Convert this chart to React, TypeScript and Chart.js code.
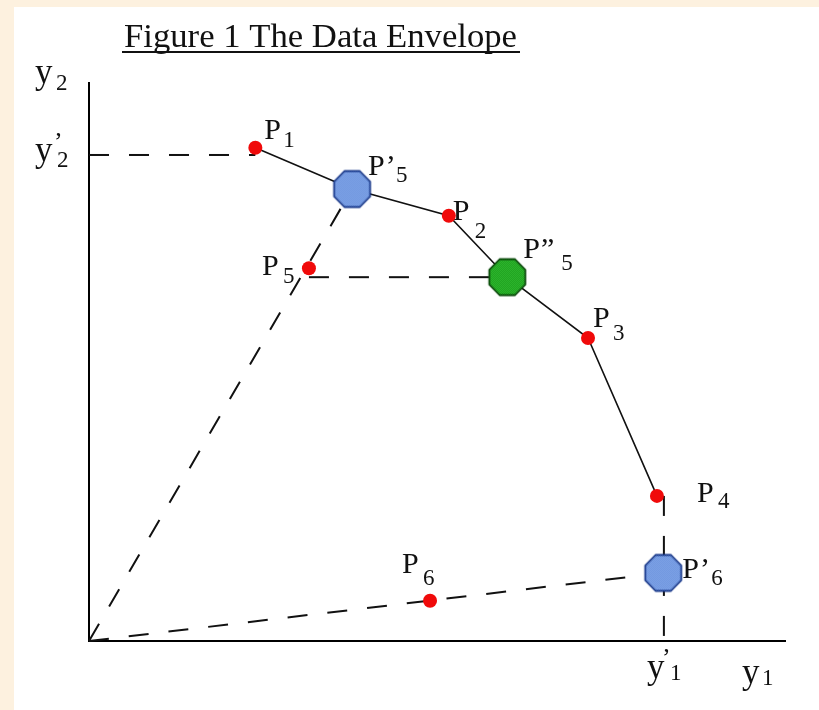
import React, { useEffect, useRef } from "react";
import { Chart, registerables } from "chart.js";

Chart.register(...registerables);

// ---- data (axis units: 0..10 on both axes) ----
const AXIS_MAX_X = 10;
const AXIS_MAX_Y = 10;

const observedNames = ["P1", "P2", "P3", "P4", "P5", "P6"];
const observedX = [2.39, 5.17, 7.17, 8.16, 3.16, 4.9];
const observedY = [8.84, 7.62, 5.43, 2.6, 6.68, 0.72];

const projectedNames = ["P'5", "P''5", "P'6"];
const projectedX = [3.78, 6.01, 8.25];
const projectedY = [8.1, 6.52, 1.22];

const frontierOrder = ["P1", "P'5", "P2", "P''5", "P3", "P4"];

const yPrime2 = 8.71; // y'2 on the y2 axis
const yPrime1 = 8.26; // y'1 on the y1 axis

const titleText = "Figure 1 The Data Envelope";

// ---- styles ----
const SERIF = '"Liberation Serif", "Times New Roman", serif';
const CANVAS_W = 805;
const CANVAS_H = 703;

type LabelStyle = { pdx: number; pdy: number; sdx: number; sdy: number };
const labelStyles: Record<string, LabelStyle> = {
  P1: { pdx: 9, pdy: -9, sdx: 28, sdy: -1 },
  "P'5": { pdx: 16, pdy: -14, sdx: 44, sdy: -7 },
  P2: { pdx: 4, pdy: 4, sdx: 26, sdy: 22 },
  "P''5": { pdx: 16, pdy: -19, sdx: 54, sdy: -7 },
  P3: { pdx: 5, pdy: -11, sdx: 25, sdy: 2 },
  P4: { pdx: 40, pdy: 6, sdx: 61, sdy: 12 },
  "P'6": { pdx: 19, pdy: 5, sdx: 48, sdy: 12 },
  P5: { pdx: -47, pdy: 7, sdx: -26, sdy: 15 },
  P6: { pdx: -28, pdy: -28, sdx: -7, sdy: -16 },
};

function getPoint(name: string): { x: number; y: number } {
  let i = observedNames.indexOf(name);
  if (i >= 0) return { x: observedX[i], y: observedY[i] };
  i = projectedNames.indexOf(name);
  return { x: projectedX[i], y: projectedY[i] };
}

function makeOctagon(fill: string, light: string, stroke: string, r: number): HTMLCanvasElement {
  const size = Math.ceil(r * 2 + 4);
  const c = document.createElement("canvas");
  c.width = size;
  c.height = size;
  const g = c.getContext("2d")!;
  const cx = size / 2;
  const cy = size / 2;
  g.beginPath();
  for (let i = 0; i < 8; i++) {
    const a = Math.PI / 8 + (i * Math.PI) / 4;
    const px = cx + r * Math.cos(a);
    const py = cy + r * Math.sin(a);
    if (i === 0) g.moveTo(px, py);
    else g.lineTo(px, py);
  }
  g.closePath();
  const pc = document.createElement("canvas");
  pc.width = 2;
  pc.height = 2;
  const pg = pc.getContext("2d")!;
  pg.fillStyle = fill;
  pg.fillRect(0, 0, 2, 2);
  pg.fillStyle = light;
  pg.fillRect(0, 0, 1, 1);
  pg.fillRect(1, 1, 1, 1);
  g.fillStyle = g.createPattern(pc, "repeat")!;
  g.fill();
  g.lineWidth = 1.8;
  g.strokeStyle = stroke;
  g.stroke();
  return c;
}

function drawPointLabel(ctx: CanvasRenderingContext2D, px: number, py: number, name: string) {
  const st = labelStyles[name];
  const m = name.match(/^([A-Za-z]+)('*)(\d+)$/);
  if (!st || !m) return;
  const base = m[1];
  const primes = m[2];
  const sub = m[3];
  ctx.fillStyle = "#111";
  ctx.textAlign = "left";
  ctx.textBaseline = "alphabetic";
  ctx.font = `30px ${SERIF}`;
  ctx.fillText(base, px + st.pdx, py + st.pdy);
  if (primes) {
    const w = ctx.measureText(base).width;
    ctx.fillText(primes.length === 2 ? "\u201D" : "\u2019", px + st.pdx + w + 1, py + st.pdy);
  }
  ctx.font = `23px ${SERIF}`;
  ctx.fillText(sub, px + st.sdx, py + st.sdy);
}

const annotationPlugin = {
  id: "envelopeAnnotations",
  beforeDatasetsDraw(chart: any) {
    const ctx: CanvasRenderingContext2D = chart.ctx;
    const xs = chart.scales.x;
    const ys = chart.scales.y;
    ctx.save();
    [...observedNames, ...projectedNames].forEach((n) => {
      const p = getPoint(n);
      drawPointLabel(ctx, xs.getPixelForValue(p.x), ys.getPixelForValue(p.y), n);
    });
    ctx.restore();
  },
  afterDraw(chart: any) {
    const ctx: CanvasRenderingContext2D = chart.ctx;
    const area = chart.chartArea;
    const xs = chart.scales.x;
    const ys = chart.scales.y;
    ctx.save();
    ctx.fillStyle = "#111";
    ctx.textAlign = "left";
    ctx.textBaseline = "alphabetic";

    // title with underline
    ctx.font = `33px ${SERIF}`;
    const tw = ctx.measureText(titleText).width;
    const targetW = 393;
    ctx.save();
    ctx.translate(110, 40);
    ctx.scale(targetW / tw, 1);
    ctx.fillText(titleText, 0, 0);
    ctx.restore();
    ctx.fillRect(108, 44, 398, 2);

    // y2 axis name
    ctx.font = `35px ${SERIF}`;
    ctx.fillText("y", area.left - 54, area.top);
    ctx.font = `23px ${SERIF}`;
    ctx.fillText("2", area.left - 33, area.top + 7);

    // y'2 tick label
    const p2 = ys.getPixelForValue(yPrime2);
    ctx.font = `35px ${SERIF}`;
    ctx.fillText("y", area.left - 54, p2 + 6);
    ctx.font = `26px ${SERIF}`;
    ctx.fillText("\u2019", area.left - 35, p2 - 5);
    ctx.font = `23px ${SERIF}`;
    ctx.fillText("2", area.left - 32, p2 + 12);

    // y'1 tick label
    const q1 = xs.getPixelForValue(yPrime1);
    ctx.font = `35px ${SERIF}`;
    ctx.fillText("y", q1 - 17, area.bottom + 37);
    ctx.font = `26px ${SERIF}`;
    ctx.fillText("\u2019", q1 - 2, area.bottom + 25);
    ctx.font = `23px ${SERIF}`;
    ctx.fillText("1", q1 + 6, area.bottom + 39);

    // y1 axis name
    ctx.font = `35px ${SERIF}`;
    ctx.fillText("y", area.right - 43, area.bottom + 42);
    ctx.font = `23px ${SERIF}`;
    ctx.fillText("1", area.right - 23, area.bottom + 44);

    ctx.restore();
  },
};

export default function App() {
  const canvasRef = useRef<HTMLCanvasElement | null>(null);

  useEffect(() => {
    const canvas = canvasRef.current;
    if (!canvas) return;

    const blueOct = makeOctagon("#3a6cd0", "#b4cdf5", "#1a3a8c", 19.5);
    const greenOct = makeOctagon("#128e12", "#3ccb3c", "#0a4a0a", 19.5);

    const observed = observedNames.map((n) => getPoint(n));
    const frontier = frontierOrder.map((n) => getPoint(n));
    const p1 = getPoint("P1");
    const p4 = getPoint("P4");
    const p5 = getPoint("P5");
    const p5a = getPoint("P'5");
    const p5b = getPoint("P''5");
    const p6a = getPoint("P'6");
    const origin = { x: 0, y: 0 };

    const dashed = (data: { x: number; y: number }[]) => ({
      data,
      showLine: true,
      borderColor: "#111",
      borderWidth: 2,
      borderDash: [20, 20],
      pointRadius: 0,
      clip: false as const,
      order: 3,
    });

    const chart = new Chart(canvas, {
      type: "scatter",
      data: {
        datasets: [
          {
            data: observed,
            pointRadius: 7,
            pointBackgroundColor: "#f00a0a",
            pointBorderWidth: 0,
            showLine: false,
            clip: false as const,
            order: 0,
          },
          {
            data: [p5a, p6a],
            pointStyle: blueOct,
            showLine: false,
            clip: false as const,
            order: 0,
          },
          {
            data: [p5b],
            pointStyle: greenOct,
            showLine: false,
            clip: false as const,
            order: 0,
          },
          {
            data: frontier,
            showLine: true,
            borderColor: "#111",
            borderWidth: 1.6,
            pointRadius: 0,
            clip: false as const,
            order: 2,
          },
          dashed([{ x: 0, y: yPrime2 }, { x: p1.x, y: yPrime2 }]),
          dashed([origin, p5a]),
          dashed([{ x: p5.x, y: p5b.y }, p5b]),
          dashed([origin, p6a]),
          dashed([{ x: yPrime1, y: p4.y }, { x: yPrime1, y: 0 }]),
        ] as any,
      },
      options: {
        responsive: false,
        animation: false,
        devicePixelRatio: 1,
        events: [],
        layout: {
          autoPadding: false,
          padding: { left: 75, top: 76, right: 34, bottom: 69 },
        },
        plugins: {
          legend: { display: false },
          tooltip: { enabled: false },
          title: { display: false },
        },
        scales: {
          x: {
            type: "linear",
            min: 0,
            max: AXIS_MAX_X,
            grid: { display: false, drawTicks: false },
            ticks: { display: false },
            border: { display: true, color: "#000", width: 2 },
          },
          y: {
            type: "linear",
            min: 0,
            max: AXIS_MAX_Y,
            grid: { display: false, drawTicks: false },
            ticks: { display: false },
            border: { display: true, color: "#000", width: 2 },
          },
        },
      } as any,
      plugins: [annotationPlugin],
    });

    return () => {
      chart.destroy();
    };
  }, []);

  return (
    <div style={{ position: "fixed", left: 0, top: 0, right: 0, bottom: 0, background: "#fdf1df" }}>
      <canvas
        ref={canvasRef}
        width={CANVAS_W}
        height={CANVAS_H}
        style={{ position: "absolute", left: 14, top: 7, width: CANVAS_W, height: CANVAS_H, background: "#fff", display: "block" }}
      />
    </div>
  );
}
